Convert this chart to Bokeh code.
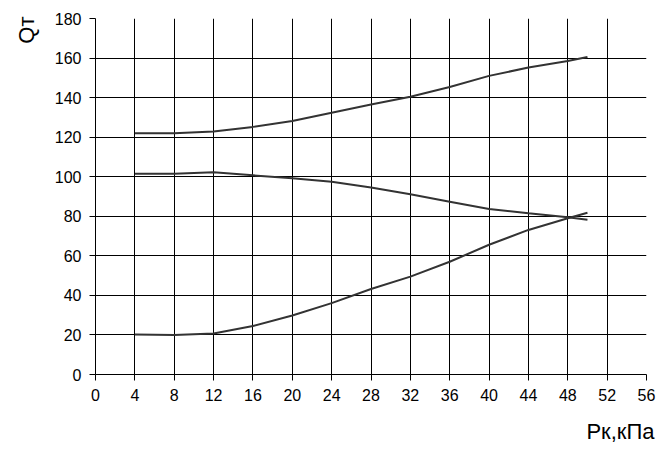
from bokeh.plotting import figure
from bokeh.models import Range1d, FixedTicker, Title
from bokeh.embed import file_html
from bokeh.resources import INLINE

# Data
pk = [4, 8, 12, 16, 20, 24, 28, 32, 36, 40, 44, 48, 50]
q_top = [122, 122, 122.9, 125.2, 128.2, 132.3, 136.5, 140.4, 145.4, 151, 155.2, 158.5, 160.5]
q_mid = [101.5, 101.5, 102.2, 100.7, 99.2, 97.5, 94.6, 91.1, 87.4, 83.7, 81.5, 79.5, 78.2]
q_bot = [20.2, 20, 20.7, 24.5, 29.8, 36.1, 43.2, 49.5, 57, 65.6, 73.1, 79, 81.8]

x_ticks = list(range(0, 57, 4))
y_ticks = list(range(0, 181, 20))

FONT = "Liberation Sans"

p = figure(width=656, height=456, output_backend="svg", toolbar_location=None,
           x_range=Range1d(0, 56), y_range=Range1d(0, 180),
           min_border_left=95, min_border_right=10, min_border_top=18, min_border_bottom=81)
p.outline_line_color = None
p.background_fill_color = "white"
p.border_fill_color = "white"

for ax in (p.xaxis[0], p.yaxis[0]):
    ax.axis_line_color = "black"
    ax.major_tick_line_color = "black"
    ax.major_tick_out = 6
    ax.major_tick_in = 0
    ax.minor_tick_line_color = None
    ax.major_label_text_font = FONT
    ax.major_label_text_font_size = "16px"
    ax.major_label_text_color = "black"

p.xaxis[0].ticker = FixedTicker(ticks=x_ticks)
p.yaxis[0].ticker = FixedTicker(ticks=y_ticks)
p.xaxis[0].major_label_standoff = 8
p.yaxis[0].major_label_standoff = 8

p.xgrid[0].ticker = FixedTicker(ticks=x_ticks)
p.ygrid[0].ticker = FixedTicker(ticks=y_ticks)
for g in (p.xgrid[0], p.ygrid[0]):
    g.grid_line_color = "black"
    g.grid_line_width = 1
    g.grid_line_alpha = 1

for ys in (q_top, q_mid, q_bot):
    p.line(pk, ys, line_color="#333333", line_width=2)

p.add_layout(Title(text="Qт", align="right", vertical_align="top", text_font=FONT,
                   text_font_size="22px", text_font_style="normal", text_color="black",
                   standoff=22, offset=-2), "left")
p.add_layout(Title(text="Рк,кПа", align="right", vertical_align="bottom", text_font=FONT,
                   text_font_size="22px", text_font_style="normal", text_color="black",
                   standoff=26, offset=-8), "below")

open("out.html", "w").write(file_html(p, INLINE))
